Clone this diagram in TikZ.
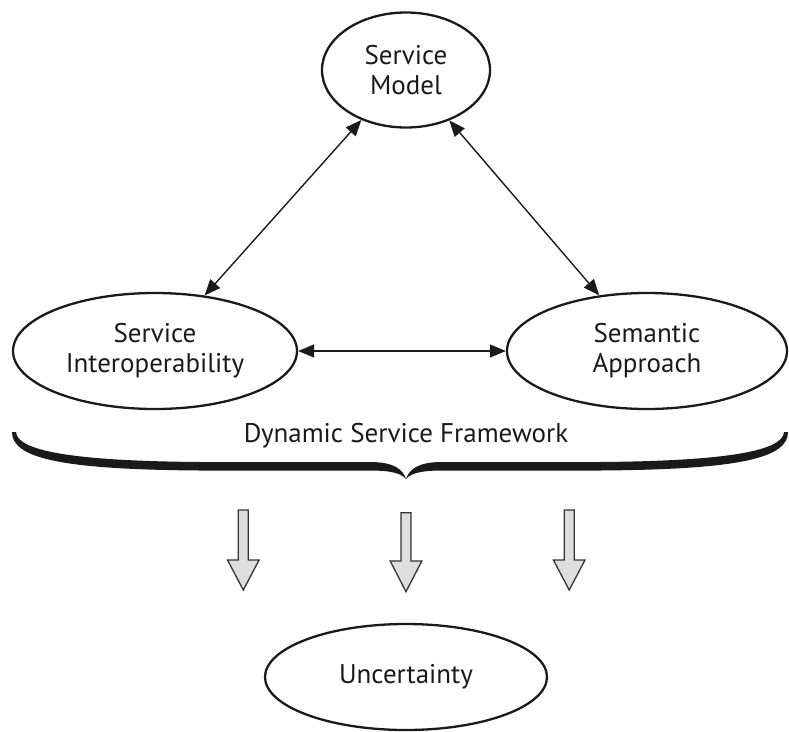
\documentclass[tikz,border=0pt]{standalone}
\usepackage{fontspec}
\setmainfont{PT Sans}
\usetikzlibrary{shapes.geometric,arrows.meta}
\definecolor{ink}{HTML}{1A1A1A}
\tikzset{
  bubble/.style={ellipse, draw=ink, line width=2.3pt, inner sep=0pt, align=center,
    text=ink, font=\fontsize{27}{30}\selectfont},
  link/.style={draw=ink, line width=1.4pt,
    {Triangle[length=16pt,width=13pt]}-{Triangle[length=16pt,width=13pt]}},
  bigarrow/.style={draw=black!80, line width=1.3pt, fill=black!13, line join=miter},
  bracefill/.style={fill=ink, draw=none},
  label/.style={text=ink, font=\fontsize{27}{30}\selectfont}
}
\begin{document}
\begin{tikzpicture}[x=1pt,y=-1pt]
\useasboundingbox (0,0) rectangle (789,731);
\node[bubble, minimum width=168pt, minimum height=115pt] (sm) at (406,70) {Service\\Model};
\node[bubble, minimum width=284pt, minimum height=116pt] (si) at (155,351) {Service\\Interoperability};
\node[bubble, minimum width=280pt, minimum height=116pt] (sa) at (647,351) {Semantic\\Approach};
\node[bubble, minimum width=282pt, minimum height=106pt] (un) at (406,677) {Uncertainty};
\draw[link] (sm) -- (si);
\draw[link] (sm) -- (sa);
\draw[link] (si) -- (sa);
% brace
\fill[bracefill] (16,432) .. controls (17,452) and (80,461) .. (200,462) -- (370,462)
  .. controls (395,462) and (403,470) .. (406,479)
  .. controls (401,473) and (390,470.5) .. (370,470.5) -- (200,470.5)
  .. controls (60,469.5) and (12,458) .. (12,432) -- cycle;
\fill[bracefill] (784,432) .. controls (783,452) and (720,461) .. (600,462) -- (442,462)
  .. controls (417,462) and (409,470) .. (406,479)
  .. controls (411,473) and (422,470.5) .. (442,470.5) -- (600,470.5)
  .. controls (740,469.5) and (788,458) .. (788,432) -- cycle;
\node[label, anchor=base] (dsf) at (406,442) {Dynamic Service Framework};
% block arrows
\foreach \cx/\ty/\hy/\by [count=\i] in {243.3/510/560/590, 406/512.7/561/591.7, 569.2/510/560/590}{
  \draw[bigarrow] (\cx-5,\ty) -- (\cx+5,\ty) -- (\cx+5,\hy) -- (\cx+15.8,\hy) -- (\cx,\by)
    -- (\cx-15.8,\hy) -- (\cx-5,\hy) -- cycle;
}
\end{tikzpicture}
\end{document}
